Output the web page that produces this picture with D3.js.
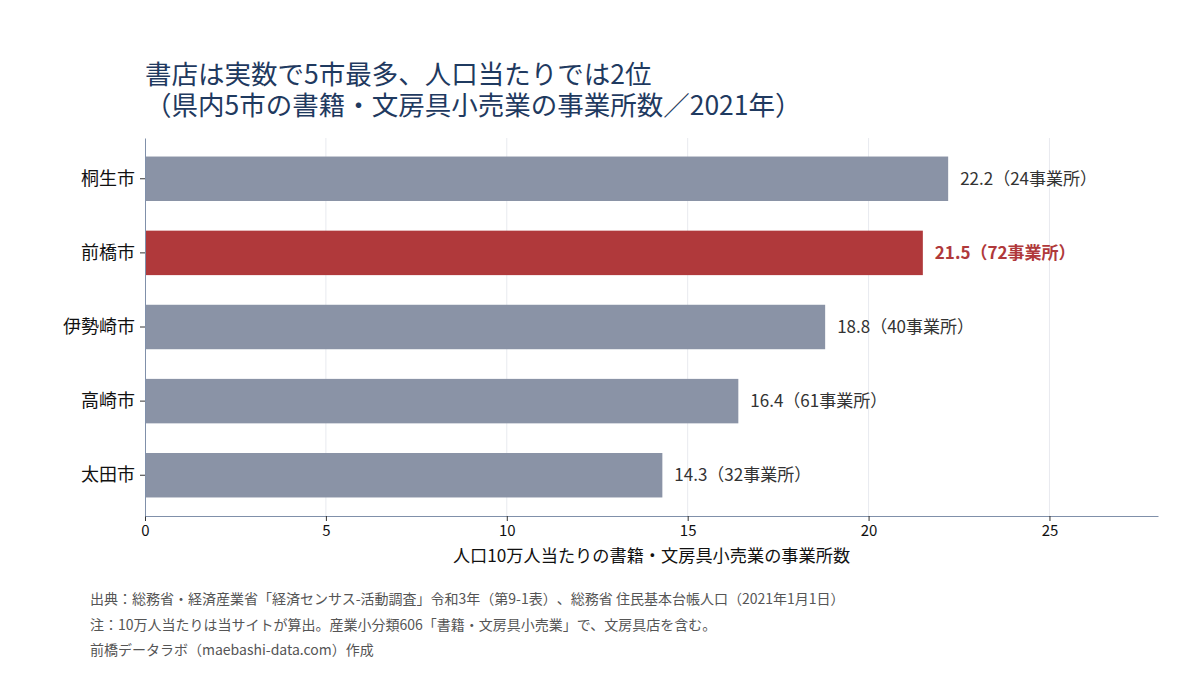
<!DOCTYPE html>
<html>
<head>
<meta charset="utf-8">
<script src="https://cdn.jsdelivr.net/npm/d3@7"></script>
<style>
  body { margin: 0; background: #fff; }
  svg { font-family: "Noto Sans CJK JP", "Noto Sans", sans-serif; text-spacing-trim: space-all; }
</style>
</head>
<body>
<svg id="chart" width="1200" height="675"></svg>
<script>
// 県内5市の書籍・文房具小売業 (2021)
const cities = ["桐生市", "前橋市", "伊勢崎市", "高崎市", "太田市"];
const per100k = [22.2, 21.5, 18.8, 16.4, 14.3];
const counts = [24, 72, 40, 61, 32];
const highlight = "前橋市";
const xTicks = [0, 5, 10, 15, 20, 25];

const titleLines = [
  "書店は実数で5市最多、人口当たりでは2位",
  "（県内5市の書籍・文房具小売業の事業所数／2021年）"
];
const notes = [
  "出典：総務省・経済産業省「経済センサス-活動調査」令和3年（第9-1表）、総務省 住民基本台帳人口（2021年1月1日）",
  "注：10万人当たりは当サイトが算出。産業小分類606「書籍・文房具小売業」で、文房具店を含む。",
  "前橋データラボ（maebashi-data.com）作成"
];

const data = cities.map((c, i) => ({ city: c, v: per100k[i], n: counts[i] }));

const svg = d3.select("#chart");
const margin = { top: 138, right: 42, bottom: 159, left: 145 };
const W = 1200, H = 675;
const innerW = W - margin.left - margin.right;
const innerH = H - margin.top - margin.bottom;

const g = svg.append("g").attr("transform", `translate(${margin.left},${margin.top})`);

const x = d3.scaleLinear().domain([0, 28.0]).range([0, innerW]);
const y = d3.scaleBand().domain(cities).range([0, innerH]).paddingInner(0.4).paddingOuter(0.25);

// grid
g.append("g")
  .selectAll("line")
  .data(xTicks.filter(d => d > 0))
  .enter()
  .append("line")
  .attr("x1", d => x(d)).attr("x2", d => x(d))
  .attr("y1", 0).attr("y2", innerH)
  .attr("stroke", "#e8eaef")
  .attr("stroke-width", 1);

// bars
g.selectAll("rect.bar")
  .data(data)
  .enter()
  .append("rect")
  .attr("class", "bar")
  .attr("x", x(0))
  .attr("y", d => y(d.city))
  .attr("width", d => x(d.v) - x(0))
  .attr("height", y.bandwidth())
  .attr("fill", d => d.city === highlight ? "#b0393b" : "#8a93a6");

// value labels
g.selectAll("text.val")
  .data(data)
  .enter()
  .append("text")
  .attr("class", "val")
  .attr("x", d => x(d.v) + 12)
  .attr("y", d => y(d.city) + y.bandwidth() / 2)
  .attr("dy", "0.35em")
  .style("font-size", "17px")
  .style("font-weight", d => d.city === highlight ? "bold" : "normal")
  .attr("fill", d => d.city === highlight ? "#b0393b" : "#333")
  .text(d => `${d.v.toFixed(1)}（${d.n}事業所）`);

// axes
const xAxis = g.append("g")
  .attr("transform", `translate(0,${innerH})`)
  .call(d3.axisBottom(x).tickValues(xTicks).tickSize(5).tickPadding(4).tickSizeOuter(0));
xAxis.select(".domain").attr("stroke", "#8090aa");
xAxis.selectAll(".tick line").attr("stroke", "#333");
xAxis.selectAll(".tick text").style("font-size", "15px").attr("fill", "#111")
  .style("font-family", "\"Noto Sans CJK JP\", sans-serif");

const yAxis = g.append("g")
  .call(d3.axisLeft(y).tickSize(5).tickPadding(5).tickSizeOuter(0));
yAxis.select(".domain").attr("stroke", "#8090aa");
yAxis.selectAll(".tick line").attr("stroke", "#333");
yAxis.selectAll(".tick text").style("font-size", "18px").attr("fill", "#111")
  .style("font-family", "\"Noto Sans CJK JP\", sans-serif");

// axis title
svg.append("text")
  .attr("x", margin.left + innerW / 2)
  .attr("y", 562)
  .attr("text-anchor", "middle")
  .style("font-size", "17.2px")
  .attr("fill", "#111")
  .text("人口10万人当たりの書籍・文房具小売業の事業所数");

// title (one text, two lines)
const title = svg.append("text")
  .attr("x", 145)
  .attr("y", 84)
  .style("font-size", "26.5px")
  .attr("fill", "#1f3a60");
title.selectAll("tspan")
  .data(titleLines)
  .enter()
  .append("tspan")
  .attr("x", 145)
  .attr("dy", (d, i) => i === 0 ? 0 : 31)
  .text(d => d);

// notes
svg.selectAll("text.note")
  .data(notes)
  .enter()
  .append("text")
  .attr("class", "note")
  .attr("x", 90)
  .attr("y", (d, i) => 604 + i * 25.5)
  .style("font-size", "14px")
  .attr("fill", "#555")
  .text(d => d);
</script>
</body>
</html>
